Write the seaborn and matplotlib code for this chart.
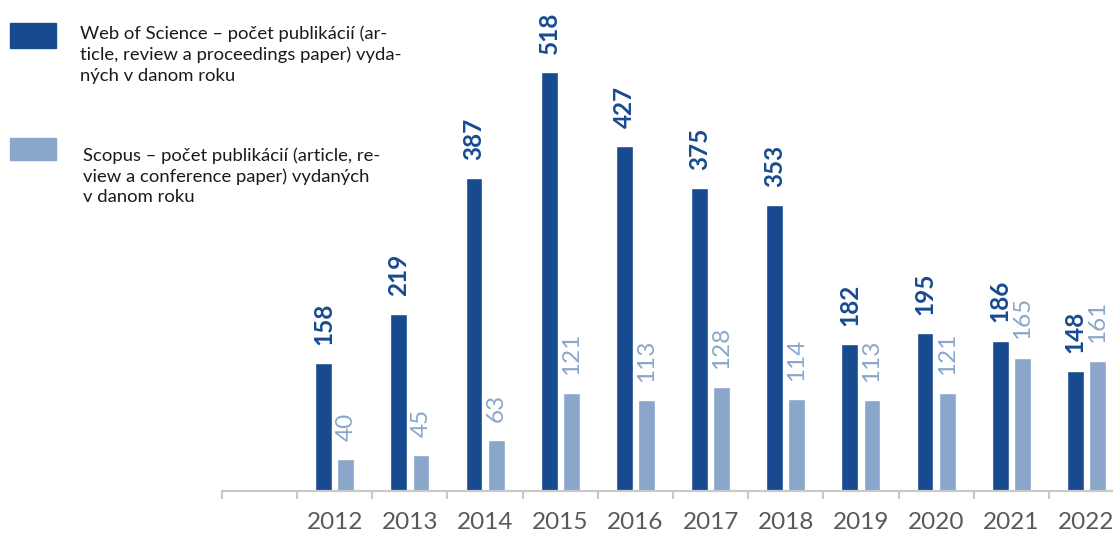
import numpy as np
import pandas as pd
import matplotlib
matplotlib.use("Agg")
import matplotlib.pyplot as plt
import seaborn as sns
from matplotlib.patches import Rectangle

years = ["2012", "2013", "2014", "2015", "2016", "2017", "2018", "2019", "2020", "2021", "2022"]
wos = [158, 219, 387, 518, 427, 375, 353, 182, 195, 186, 148]
scopus = [40, 45, 63, 121, 113, 128, 114, 113, 121, 165, 161]
series_names = ["Web of Science", "Scopus"]
legend_texts = [
    "Web of Science – počet publikácií (ar-\nticle, review a proceedings paper) vyda-\nných v danom roku",
    "Scopus – počet publikácií (article, re-\nview a conference paper) vydaných\nv danom roku",
]
colors = ["#174A8F", "#8AA6CA"]

sns.set_theme(style="white")
plt.rcParams["font.family"] = ["Lato", "DejaVu Sans"]

df = pd.DataFrame({
    "year": years * 2,
    "value": wos + scopus,
    "source": [series_names[0]] * len(years) + [series_names[1]] * len(years),
})

fig = plt.figure(figsize=(11.13, 5.34), dpi=100)
W, H = 1113, 534
ax = fig.add_axes([222 / W, 43 / H, (1124 - 222) / W, 491 / H])

order = [""] + years
sns.barplot(data=df, x="year", y="value", hue="source", order=order,
            hue_order=series_names, palette=colors, width=0.59, gap=0.24,
            saturation=1, legend=False, ax=ax, errorbar=None)

ax.set_xlim(-0.5, len(order) - 0.5)
ax.set_ylim(0, 607)
ax.set_xlabel("")
ax.set_ylabel("")
ax.set_yticks([])
for s in ["top", "right", "left"]:
    ax.spines[s].set_visible(False)
ax.spines["bottom"].set_color("#C9C9C9")
ax.spines["bottom"].set_linewidth(1.6)

ax.set_xticks(range(len(order)))
ax.set_xticklabels(order)
ax.tick_params(axis="x", which="major", length=0, pad=15, labelsize=17.5, labelcolor="#595959")
ax.set_xticks(np.arange(-0.5, len(order), 1.0), minor=True)
ax.tick_params(axis="x", which="minor", length=6, width=1.5, color="#C9C9C9", bottom=True)

for cont, col, wt in zip(ax.containers, colors, ["bold", "normal"]):
    ax.bar_label(cont, fmt="%d", padding=13, rotation=90, fontsize=17.5,
                 color=col, fontweight=wt)

# legend
fig.patches.append(Rectangle((10 / W, 1 - 48 / H), 46 / W, 25 / H,
                             transform=fig.transFigure, color=colors[0], figure=fig))
fig.patches.append(Rectangle((10 / W, 1 - 160 / H), 46 / W, 22 / H,
                             transform=fig.transFigure, color=colors[1], figure=fig))
fig.text(80 / W, 1 - 25 / H, legend_texts[0], ha="left", va="top", fontsize=13.3,
         color="#1a1a1a", linespacing=1.37)
fig.text(83 / W, 1 - 147 / H, legend_texts[1], ha="left", va="top", fontsize=13.3,
         color="#1a1a1a", linespacing=1.33)

fig.savefig("out.png", dpi=100)
